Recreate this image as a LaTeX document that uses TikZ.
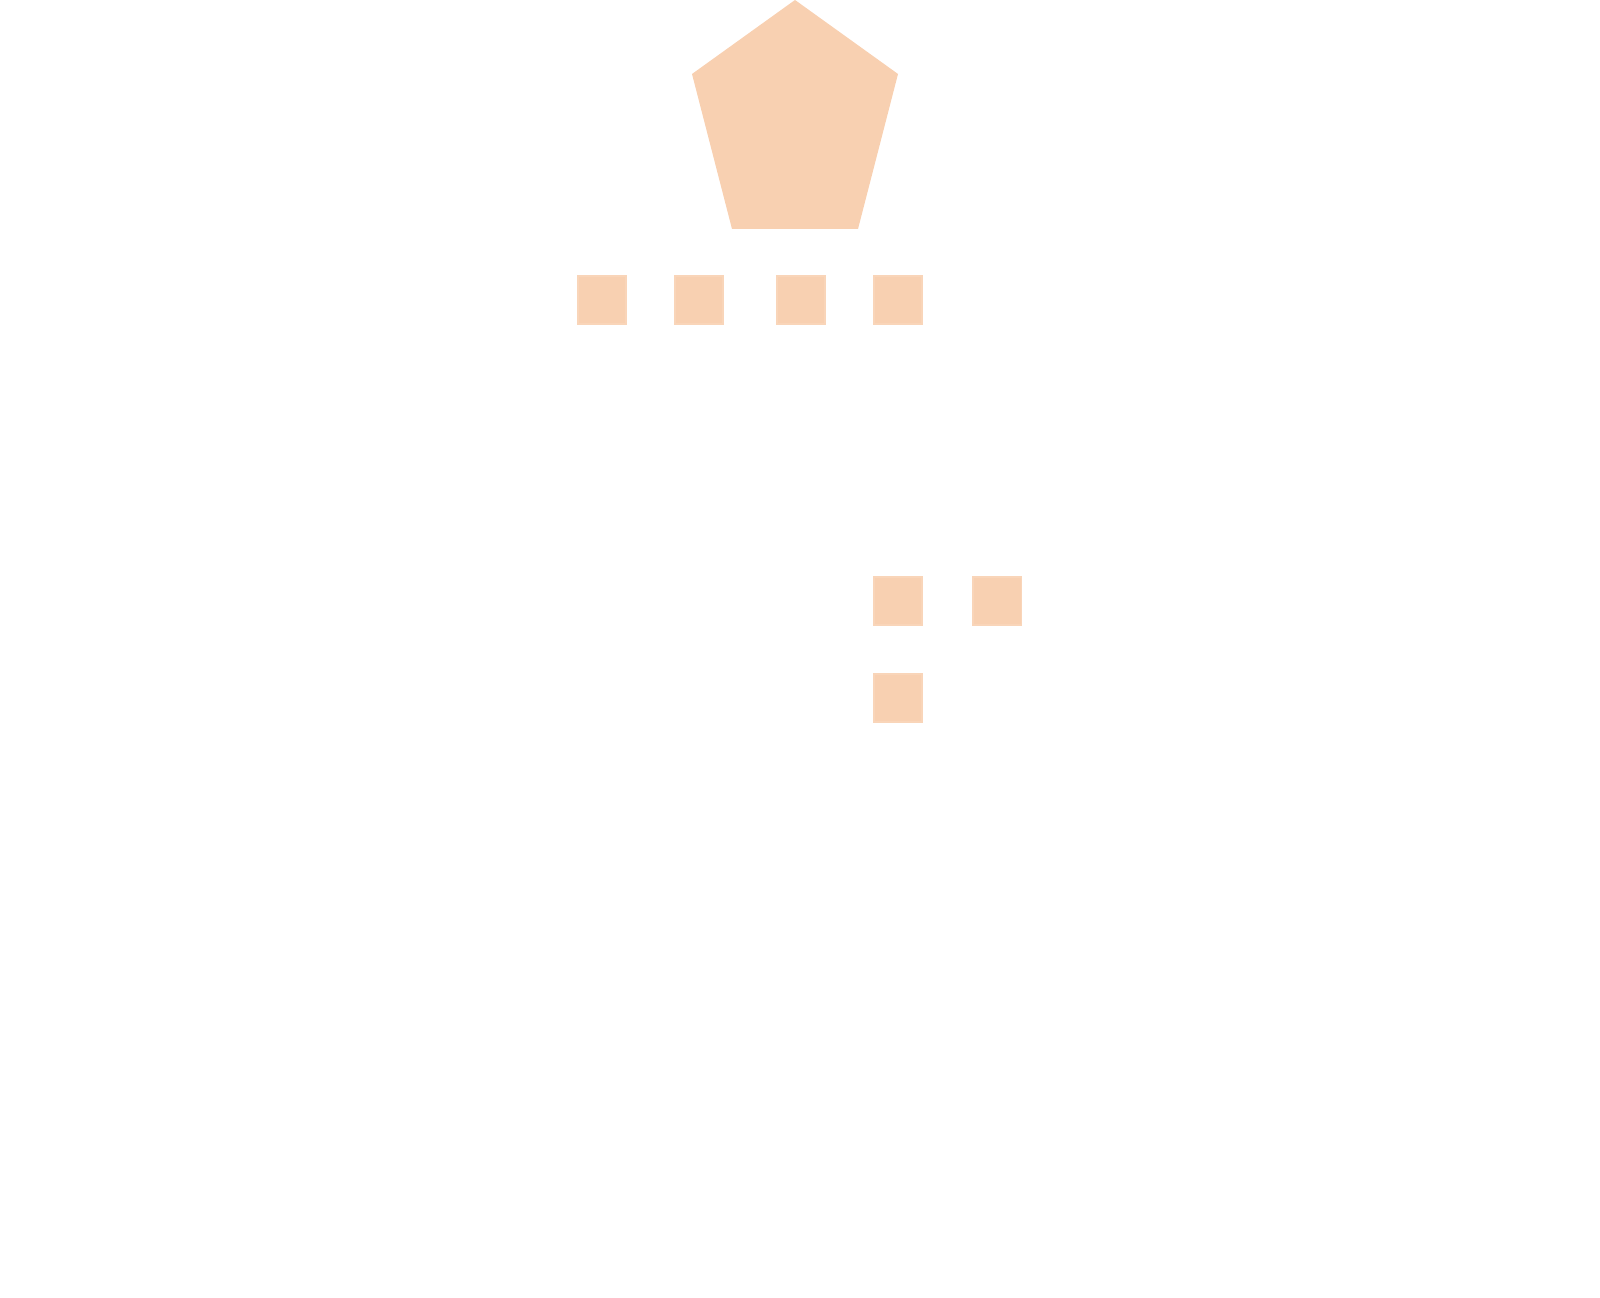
\documentclass[tikz,border=0pt]{standalone}
\definecolor{peach}{RGB}{248,208,177}
\tikzset{
  cell/.style={fill=peach,draw=peach!90!white,line width=0.3pt,minimum size=0.48cm,inner sep=0pt}
}
\begin{document}
\begin{tikzpicture}[x=0.01cm,y=-0.01cm]
  \useasboundingbox (0,0) rectangle (1600,1298);
  \fill[peach] (795,0) -- (898,74) -- (858,229) -- (732,229) -- (692,74) -- cycle;

  \foreach \x/\n in {602/a,699/b,801/c,898/d}
    \node[cell] (top\n) at (\x,300) {};

  \node[cell] (mid1) at (898,601) {};
  \node[cell] (mid2) at (997,601) {};
  \node[cell] (low1) at (898,698) {};
\end{tikzpicture}
\end{document}
